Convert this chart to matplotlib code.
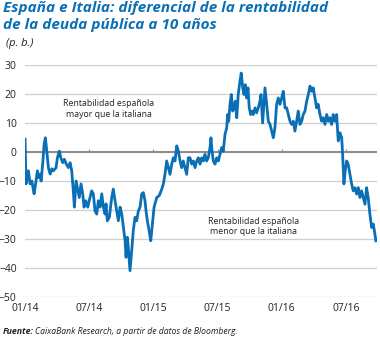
import numpy as np
import matplotlib
matplotlib.use("Agg")
import matplotlib.pyplot as plt
from matplotlib import font_manager

# months since 01/2014 and spread Spain - Italy (p. b.)
months = [0.00, 0.09, 0.31, 0.47, 0.63, 0.84, 0.93, 1.15, 1.24, 1.40, 1.50, 1.65, 1.78, 1.90,
          2.03, 2.18, 2.34, 2.50, 2.64, 2.90, 3.02, 3.21, 3.34, 3.52, 3.67, 3.83, 4.05, 4.21,
          4.36, 4.51, 4.61, 4.77, 4.89, 5.07, 5.23, 5.39, 5.51, 5.67, 5.86, 6.07, 6.23, 6.38,
          6.54, 6.70, 6.85, 7.01, 7.17, 7.32, 7.48, 7.57, 7.69, 7.88, 8.10, 8.25, 8.41, 8.57,
          8.72, 8.88, 9.04, 9.19, 9.35, 9.44, 9.56, 9.65, 9.81, 9.97, 10.12, 10.28, 10.44,
          10.59, 10.75, 10.91, 11.06, 11.21, 11.31, 11.43, 11.59, 11.75, 11.90, 12.06, 12.31,
          12.55, 12.78, 12.93, 13.08, 13.24, 13.39, 13.55, 13.71, 13.86, 14.02, 14.18, 14.33,
          14.49, 14.64, 14.79, 14.95, 15.11, 15.26, 15.42, 15.58, 15.73, 15.89, 16.05, 16.20,
          16.36, 16.51, 16.66, 16.82, 16.98, 17.13, 17.29, 17.38, 17.48, 17.60, 17.76, 17.92,
          18.07, 18.22, 18.38, 18.53, 18.69, 18.85, 18.94, 19.04, 19.16, 19.28, 19.41, 19.53,
          19.65, 19.79, 19.93, 20.09, 20.21, 20.35, 20.47, 20.59, 20.72, 20.84, 20.96, 21.09,
          21.21, 21.34, 21.50, 21.65, 21.80, 21.96, 22.06, 22.21, 22.34, 22.43, 22.59, 22.74,
          22.90, 23.05, 23.21, 23.36, 23.52, 23.67, 23.83, 23.99, 24.14, 24.30, 24.46, 24.61,
          24.77, 24.92, 25.08, 25.23, 25.39, 25.54, 25.70, 25.86, 26.01, 26.17, 26.33, 26.48,
          26.64, 26.79, 26.94, 27.10, 27.26, 27.41, 27.57, 27.73, 27.88, 28.04, 28.20, 28.35,
          28.50, 28.66, 28.81, 28.97, 29.13, 29.28, 29.44, 29.60, 29.69, 29.81, 29.93, 30.07,
          30.21, 30.37, 30.53, 30.68, 30.84, 31.00, 31.15, 31.31, 31.46, 31.62, 31.78, 31.93,
          32.08, 32.24, 32.40, 32.55, 32.71, 32.80]
spread = [4.4, -11, -6.5, -11, -10, -14.4, -12.4, -6.5, -8.8, -7.6, -10, -4, 2.7, 4.9,
          0.3, -5.4, -7.6, -5.8, -6.5, -5.4, -2, 0.3, -2, -3.7, -2.5, -4, -5.4, -3.7,
          -6.5, -13.4, -19, -10, -12.3, -15.7, -11, -14.4, -19, -16.8, -19, -15.7, -13.4, -14.4,
          -20.3, -21.4, -16.8, -19, -14.4, -19, -21.4, -17.9, -23.7, -22.5, -15.7, -12.8, -16.8, -20.3,
          -23.7, -19, -21.4, -26, -30.6, -36.3, -29.4, -32.9, -40.9, -34, -27, -22.5, -23.7,
          -20.3, -19, -14.4, -14, -16.8, -20.3, -23.7, -27, -30.6, -24.8, -19, -15.7,
          -15, -12.8, -11, -7.7, -3.1, -5.4, -7.7, -4.2, -2, -3.1, 2.1, 0.3,
          -3.1, -5.4, -3.1, -5.4, -7.7, -2, -2, -4.2, -3.1, -5.4, -3.1, -2,
          -4.2, -2, -3.1, -0.8, -3.1, -2, 1.5, 4.9, 0.3, -3.1, -4.2, -2,
          -3.1, -0.8, 1.5, 0.3, 6, 8.3, 12.9, 10.6, 16.4, 19.8, 14.1, 15.2,
          17.5, 11.8, 19.8, 24.4, 27.2, 22.1, 19.8, 23.2, 18.6, 22.1, 15.2, 12.9,
          14.1, 12.9, 15.2, 13.5, 15.2, 17.5, 19.8, 10, 17, 22.1, 16.4, 10.6,
          9.5, 7.2, 4.9, 8.3, 16.4, 18.6, 16.4, 18.6, 20.9, 15.2, 15.2, 12.9,
          10.6, 9.5, 10.6, 7.2, 10.6, 14.1, 9.5, 10.6, 12.9, 14.1, 17.5, 19.8,
          22.7, 20.9, 22.1, 18.6, 15.2, 16.4, 12.9, 10.6, 11.8, 9.5, 12.9, 10.6,
          11.8, 9.5, 12.9, 10.6, 12.9, 3.8, 6.6, 4.9, -0.8, -11, -6.5, -3.1,
          -4.2, -7.7, -11, -13.4, -12.3, -14.5, -12.3, -15.7, -13.4, -15.7, -18, -12.3,
          -15.7, -21.4, -26, -24.8, -28.3, -30.6]

tick_pos = [0, 6, 12, 18, 24, 30]
tick_labels = ["01/14", "07/14", "01/15", "07/15", "01/16", "07/16"]
y_ticks = [30, 20, 10, 0, -10, -20, -30, -40, -50]

installed = {f.name for f in font_manager.fontManager.ttflist}
narrow = "Liberation Sans Narrow" if "Liberation Sans Narrow" in installed else "Open Sans"
plt.rcParams["font.family"] = [narrow, "DejaVu Sans"]

blue = "#0a6fb5"
fig = plt.figure(figsize=(3.8, 3.38), dpi=100)
ax = fig.add_axes([0.066, 0.121, 0.926, 0.687])

ax.plot(months, spread, color=blue, lw=2.0, solid_joinstyle="round", zorder=3)

ax.set_xlim(0, 32.9)
ax.set_ylim(-50, 30)
ax.set_yticks(y_ticks)
ax.set_xticks(tick_pos)
ax.set_xticklabels(tick_labels)
ax.tick_params(length=0, labelsize=7.5, colors="#222222")
ax.tick_params(axis="y", pad=6)
ax.tick_params(axis="x", pad=4)
for s in ax.spines.values():
    s.set_visible(False)
ax.grid(axis="y", color="#cfcfcf", lw=0.9)
ax.axhline(0, color="#8a8a8a", lw=1.4, zorder=2)
ax.vlines(tick_pos[1:], 0, 0.9, color="#8a8a8a", lw=0.8, zorder=2)

ax.text(7.85, 14.8, "Rentabilidad española\nmayor que la italiana", ha="center", va="center",
        fontsize=6.3, color="#222222", linespacing=1.15)
ax.text(21.4, -25.6, "Rentabilidad española\nmenor que la italiana", ha="center", va="center",
        fontsize=6.3, color="#222222", linespacing=1.15)

fig.text(0.008, 0.996, "España e Italia: diferencial de la rentabilidad\nde la deuda pública a 10 años",
         ha="left", va="top", fontsize=11, fontweight="bold", fontstyle="italic",
         color=blue, linespacing=1.25)
fig.text(0.016, 0.870, "(p. b.)", ha="left", va="center", fontsize=8, fontstyle="italic",
         color="#222222")
fig.text(0.008, 0.018, "Fuente:", ha="left", va="center", fontsize=6.3, fontweight="bold",
         fontstyle="italic", color="#222222")
fig.text(0.092, 0.018, "CaixaBank Research, a partir de datos de Bloomberg.", ha="left",
         va="center", fontsize=6.2, fontstyle="italic", color="#222222")

fig.savefig("out.png", dpi=100)
